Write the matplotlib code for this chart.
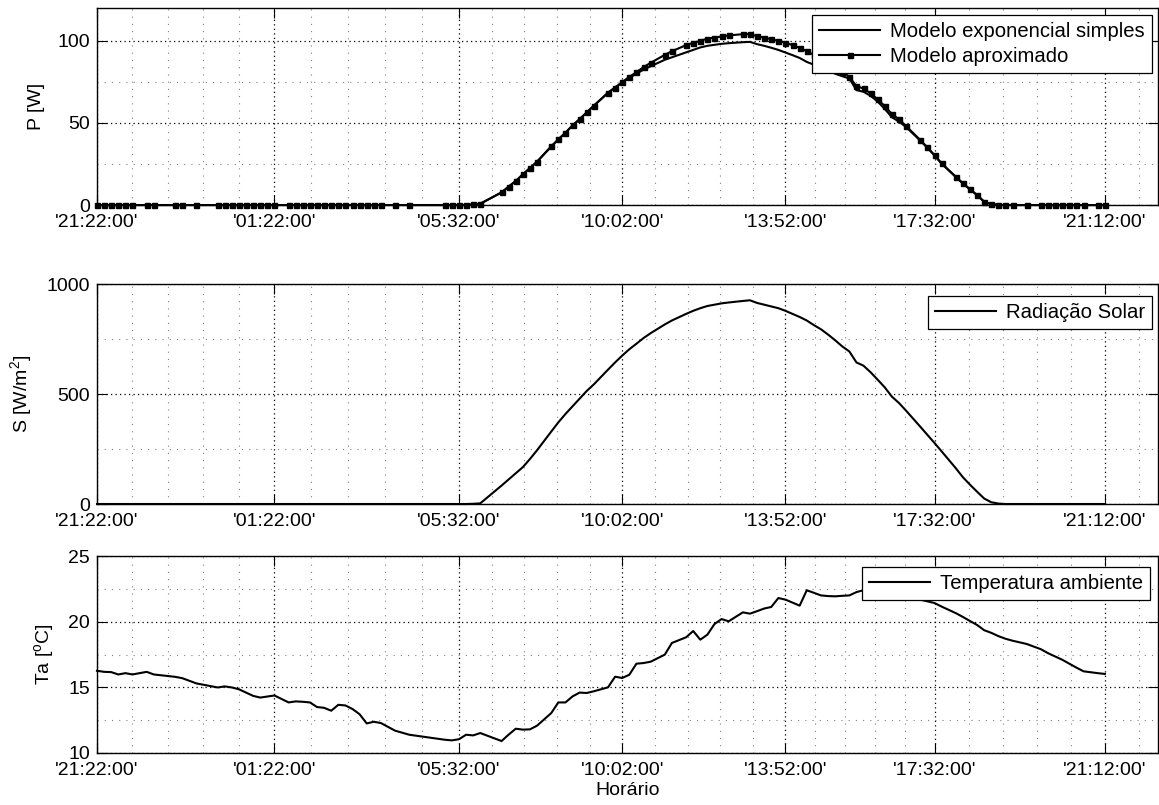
import matplotlib
matplotlib.use('Agg')
import matplotlib.pyplot as plt
import numpy as np

plt.rcParams['font.family'] = ['Liberation Sans', 'DejaVu Sans']
plt.rcParams['font.size'] = 14
plt.rcParams['mathtext.fontset'] = 'custom'
plt.rcParams['mathtext.rm'] = 'Liberation Sans'
plt.rcParams['mathtext.it'] = 'Liberation Sans:italic'

# sample number of each recorded point (some samples missing)
slots = [0, 1, 2, 3, 4, 5, 7, 8, 11, 12, 14,
         17, 18, 19, 20, 21, 22, 23, 24, 25,
         27, 28, 29, 30, 31, 32, 33, 34, 35, 36, 37, 38, 39, 40,
         42, 44, 49, 50, 51, 52, 53, 54,
         57, 58, 59, 60, 61, 62, 64, 65, 66, 67, 68, 69, 70,
         72, 73, 74, 75, 76, 77, 78, 80, 81,
         83, 84, 85, 86, 87, 88, 89,
         91, 92, 93, 94, 95, 96, 97, 98, 99, 100, 101, 102, 103, 104, 105, 106, 107, 108, 109, 110, 111, 112, 113, 114,
         116, 117, 118, 119, 121, 122, 123, 124, 125, 126, 127, 128, 129,
         131, 133, 134, 135, 136, 137, 138, 139, 141, 142]

p_aprox = [0] * 11 + [0] * 9 + [0] * 14 + \
    [0, 0, 0, 0, 0, 0, 0.4, 0.8,
     7.7, 11.2, 14.6, 18.7, 22.5, 26.4, 35.7, 40.0, 44.0, 48.5, 52.3, 56.4, 60.5,
     68.4, 71.6, 74.9, 78.1, 80.9, 84.0, 86.6, 91.5, 93.7,
     97.4, 98.8, 100.0, 101.4, 102.0, 102.7, 103.3,
     104.1, 104.1, 102.9, 102.0, 101.0, 100.0, 99.0, 97.4, 95.8, 93.7, 91.5, 89.2, 86.8, 84.2, 81.3, 78.1,
     72.4, 71.0, 68.0, 64.3, 60.3, 55.4, 52.2, 48.1,
     39.6, 35.1, 30.4, 25.4, 17.2, 13.2, 9.6, 6.1, 2.0, 0.6, 0, 0, 0] + [0] * 10

p_exp = [0] * 11 + [0] * 9 + [0] * 14 + \
    [0, 0, 0, 0, 0, 0, 0.4, 0.8,
     7.7, 11.2, 14.6, 18.7, 22.5, 26.4, 35.7, 40.0, 44.0, 48.5, 52.3, 56.4, 60.5,
     68.4, 71.6, 74.6, 77.5, 80.0, 82.5, 84.5, 88.5, 90.0,
     93.0, 94.5, 96.0, 97.0, 97.6, 98.2, 98.6,
     99.2, 99.4, 98.0, 97.0, 95.8, 94.5, 92.9, 91.3, 89.6, 87.2, 85.5, 84.0, 82.0, 80.0, 78.5, 77.1,
     70.0, 69.0, 66.5, 63.0, 58.5, 53.5, 50.8, 47.5,
     39.2, 34.8, 30.2, 25.2, 17.1, 13.1, 9.5, 6.0, 2.0, 0.6, 0, 0, 0] + [0] * 10

radiacao = [0] * 11 + [0] * 9 + [0] * 14 + \
    [0, 0, 0, 0, 0, 0, 1, 3,
     84, 112, 140, 168, 205, 245, 330, 372, 410, 445, 480, 515, 545,
     612, 645, 676, 705, 730, 756, 778, 818, 836,
     866, 880, 892, 902, 908, 914, 918,
     925, 928, 916, 908, 900, 892, 880, 866, 852, 836, 815, 796, 772, 746, 718, 695,
     645, 630, 600, 566, 531, 489, 460, 425,
     352, 315, 278, 240, 163, 122, 88, 56, 25, 8, 2, 0, 0] + [0] * 10

temp = [16.26, 16.18, 16.16, 15.98, 16.08, 15.98, 16.18, 15.98, 15.8, 15.7, 15.3,
        14.99, 15.07, 14.99, 14.85, 14.6, 14.35, 14.22, 14.3, 14.38,
        13.85, 13.93, 13.9, 13.85, 13.5, 13.44, 13.22, 13.67, 13.62, 13.35, 12.95, 12.25, 12.38, 12.28,
        11.7, 11.39, 11.01, 10.96, 11.05, 11.39, 11.34, 11.52,
        10.91, 11.4, 11.85, 11.78, 11.8, 12.08, 13.04, 13.85, 13.85, 14.31, 14.6, 14.57, 14.7,
        15.0, 15.81, 15.71, 15.96, 16.8, 16.85, 16.95, 17.49, 18.38,
        18.81, 19.29, 18.63, 19.01, 19.82, 20.2, 20.03,
        20.71, 20.61, 20.8, 21.0, 21.12, 21.8, 21.68, 21.45, 21.22, 22.39, 22.2, 22.0, 21.95, 21.93, 21.97, 22.0,
        22.25, 22.4, 22.5, 22.45, 22.35, 22.2, 22.0, 21.8,
        21.67, 21.55, 21.42, 21.15, 20.65, 20.36, 20.05, 19.75, 19.35, 19.15, 18.9, 18.7, 18.55,
        18.3, 17.9, 17.6, 17.35, 17.1, 16.8, 16.5, 16.22, 16.08, 16.02]

tick_slots = [0, 25, 51, 74, 97, 118, 142]
tick_labels = ["'21:22:00'", "'01:22:00'", "'05:32:00'", "'10:02:00'",
               "'13:52:00'", "'17:32:00'", "'21:12:00'"]
x_max = 149.5


def minor_between(major, n=5):
    # 5 subdivisions between each pair of major ticks, continuing past the end
    out = []
    for a, b in zip(major[:-1], major[1:]):
        step = (b - a) / n
        out += [a + step * k for k in range(1, n)]
    step = (major[-1] - major[-2]) / n
    v = major[-1] + step
    while v < x_max:
        out.append(v)
        v += step
    return out


def style_axes(ax, yticks, yminor, ylim):
    ax.set_xlim(0, x_max)
    ax.set_ylim(*ylim)
    ax.set_xticks(tick_slots)
    ax.set_xticklabels(tick_labels)
    ax.set_xticks(minor_between(tick_slots), minor=True)
    ax.set_yticks(yticks)
    ax.set_yticks(yminor, minor=True)
    ax.tick_params(which='major', direction='in', top=True, right=True,
                   length=7, width=0.8, pad=5)
    ax.tick_params(axis='x', which='major', pad=6.5)
    ax.tick_params(which='minor', length=0, top=True, right=True)
    ax.grid(which='major', color='black', linestyle=(0, (1, 2.6)), linewidth=0.9)
    ax.grid(which='minor', color='0.5', linestyle=(0, (1, 5.5)), linewidth=0.8)
    ax.set_axisbelow(True)
    for s in ax.spines.values():
        s.set_linewidth(1.0)


def make_legend(ax, anchor):
    leg = ax.legend(loc='upper right', bbox_to_anchor=anchor, fancybox=False,
                    edgecolor='black', framealpha=1, handlelength=3.0,
                    borderpad=0.35, labelspacing=0.3, handletextpad=0.5,
                    borderaxespad=0, fontsize=14.6)
    leg.get_frame().set_linewidth(0.9)


fig = plt.figure(figsize=(11.59, 8.05), dpi=100)
ax1 = fig.add_axes([0.0837, 0.7453, 0.9155, 0.2447])
ax2 = fig.add_axes([0.0837, 0.3739, 0.9155, 0.2727])
ax3 = fig.add_axes([0.0837, 0.0646, 0.9155, 0.2447])

ax1.plot(slots, p_exp, color='black', lw=1.5, label='Modelo exponencial simples', clip_on=False)
ax1.plot(slots, p_aprox, color='black', lw=1.5, marker='s', ms=3.6,
         label='Modelo aproximado', clip_on=False)
style_axes(ax1, [0, 50, 100], [25, 75], (0, 120))
ax1.set_ylabel('P [W]', labelpad=9)
make_legend(ax1, (0.9943, 0.9645))

ax2.plot(slots, radiacao, color='black', lw=1.5, label='Radiação Solar', clip_on=False)
style_axes(ax2, [0, 500, 1000], [250, 750], (0, 1000))
ax2.set_ylabel('S [W/m$^2$]', labelpad=9)
make_legend(ax2, (0.9943, 0.9476))

ax3.plot(slots, temp, color='black', lw=1.5, label='Temperatura ambiente', clip_on=False)
style_axes(ax3, [10, 15, 20, 25], [12.5, 17.5, 22.5], (10, 25))
ax3.set_ylabel('Ta [$^\\mathrm{o}$C]', labelpad=9)
ax3.set_xlabel('Horário', labelpad=2)
make_legend(ax3, (0.9925, 0.9457))

fig.savefig('out.png', dpi=100)
